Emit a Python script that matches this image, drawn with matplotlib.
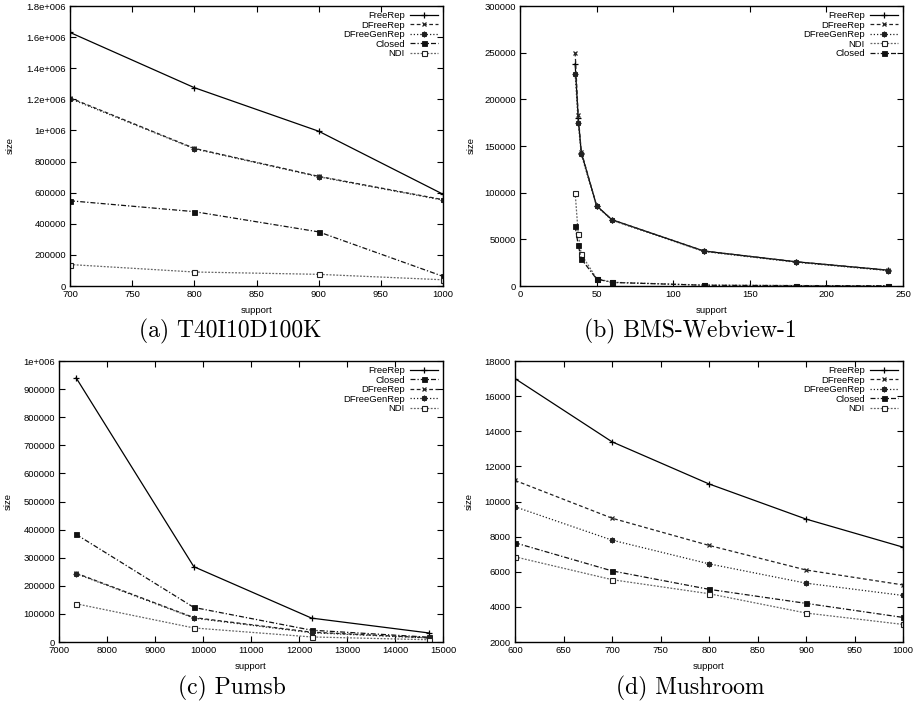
import matplotlib
matplotlib.use("Agg")
import matplotlib.pyplot as plt
from matplotlib.ticker import FuncFormatter, MultipleLocator

plt.rcParams["font.family"] = ["Liberation Sans", "DejaVu Sans"]

W, H = 913, 710

# (a) T40I10D100K
a_support = [700, 800, 900, 1000]
a_freerep = [1630000, 1275000, 995000, 590000]
a_dfreerep = [1210000, 885000, 705000, 555000]
a_dfreegenrep = [1205000, 882000, 702000, 552000]
a_closed = [548000, 478000, 348000, 62000]
a_ndi = [138000, 90000, 75000, 40000]

# (b) BMS-Webview-1
b_support = [36, 38, 40, 50, 60, 120, 180, 240]
b_freerep = [238000, 180000, 143000, 86000, 71000, 37500, 26000, 17000]
b_dfreerep = [250000, 183000, 144000, 86000, 71000, 37500, 26000, 17000]
b_dfreegenrep = [227000, 175000, 141000, 85500, 70500, 37000, 25500, 16500]
b_ndi = [100000, 56000, 34000, 8000, 4000, 1000, 500, 300]
b_closed = [64000, 44000, 29000, 7500, 3800, 800, 400, 200]

# (c) Pumsb
c_support = [7357, 9809, 12262, 14714]
c_freerep = [940000, 268000, 85000, 32000]
c_closed = [383000, 123000, 42000, 17000]
c_dfreerep = [245000, 87000, 35000, 15000]
c_dfreegenrep = [243000, 85000, 33000, 14000]
c_ndi = [136000, 50000, 18000, 8000]

# (d) Mushroom
d_support = [600, 700, 800, 900, 1000]
d_freerep = [17000, 13400, 11000, 9000, 7400]
d_dfreerep = [11200, 9050, 7500, 6100, 5250]
d_dfreegenrep = [9700, 7800, 6450, 5350, 4650]
d_closed = [7650, 6050, 5000, 4200, 3400]
d_ndi = [6850, 5550, 4750, 3650, 3000]

styles = {
    "FreeRep": dict(color="black", ls="-", marker="+", ms=5, mew=0.9),
    "DFreeRep": dict(color="#222222", ls=(0, (3, 2)), marker="x", ms=3.5, mew=0.9),
    "DFreeGenRep": dict(color="#222222", ls=(0, (1, 1.6)), marker=(8, 2, 0), ms=4, mew=0.9),
    "Closed": dict(color="#111111", ls=(0, (4, 1.6, 1, 1.6)), marker="s", ms=3.6, mew=0.6),
    "NDI": dict(color="#666666", ls=(0, (1.5, 1.2)), marker="s", ms=3.6, mew=0.8,
                mfc="white", mec="#222222"),
}


def gp_fmt(v, pos):
    s = "%g" % v
    return s.replace("e+0", "e+00")


fig = plt.figure(figsize=(W / 100, H / 100), dpi=100)


def make_ax(l, r, t, b):
    return fig.add_axes([l / W, 1 - b / H, (r - l) / W, (b - t) / H])


def draw(ax, x, series, xlim, ylim, xstep, ystep):
    for name, y in series:
        ax.plot(x, y, label=name, lw=0.9, **styles[name])
    ax.set_xlim(*xlim)
    ax.set_ylim(*ylim)
    ax.xaxis.set_major_locator(MultipleLocator(xstep))
    ax.yaxis.set_major_locator(MultipleLocator(ystep))
    ax.yaxis.set_major_formatter(FuncFormatter(gp_fmt))
    ax.tick_params(direction="in", top=True, right=True, length=4, width=0.8,
                   labelsize=6.8, pad=3)
    for sp in ax.spines.values():
        sp.set_linewidth(1.0)
    ax.set_xlabel("support", fontsize=6.8, labelpad=5)
    ax.set_ylabel("size", fontsize=6.8)
    ax.legend(loc="upper right", frameon=False, markerfirst=False, fontsize=6.8,
              labelspacing=0.05, handlelength=2.9, handletextpad=0.6,
              borderpad=0.35, borderaxespad=0.2)


ax_a = make_ax(70, 443, 6, 286)
draw(ax_a, a_support,
     [("FreeRep", a_freerep), ("DFreeRep", a_dfreerep), ("DFreeGenRep", a_dfreegenrep),
      ("Closed", a_closed), ("NDI", a_ndi)],
     (700, 1000), (0, 1800000), 50, 200000)
ax_a.yaxis.set_label_coords(-55 / 373, 0.5)

ax_b = make_ax(520, 903, 6, 286)
draw(ax_b, b_support,
     [("FreeRep", b_freerep), ("DFreeRep", b_dfreerep), ("DFreeGenRep", b_dfreegenrep),
      ("NDI", b_ndi), ("Closed", b_closed)],
     (0, 250), (0, 300000), 50, 50000)
ax_b.yaxis.set_label_coords(-44 / 383, 0.5)

ax_c = make_ax(59, 443, 361, 642)
draw(ax_c, c_support,
     [("FreeRep", c_freerep), ("Closed", c_closed), ("DFreeRep", c_dfreerep),
      ("DFreeGenRep", c_dfreegenrep), ("NDI", c_ndi)],
     (7000, 15000), (0, 1000000), 1000, 100000)
ax_c.yaxis.set_label_coords(-46 / 384, 0.5)

ax_d = make_ax(515, 903, 361, 642)
draw(ax_d, d_support,
     [("FreeRep", d_freerep), ("DFreeRep", d_dfreerep), ("DFreeGenRep", d_dfreegenrep),
      ("Closed", d_closed), ("NDI", d_ndi)],
     (600, 1000), (2000, 18000), 50, 2000)
ax_d.yaxis.set_label_coords(-41 / 388, 0.5)

captions = [("(a) T40I10D100K", 230, 331), ("(b) BMS-Webview-1", 690, 331),
            ("(c) Pumsb", 232, 688), ("(d) Mushroom", 690, 688)]
for text, cx, cy in captions:
    fig.text(cx / W, 1 - cy / H, text, ha="center", va="center",
             fontsize=17, family="cmr10")

fig.savefig("out.png", dpi=100)
